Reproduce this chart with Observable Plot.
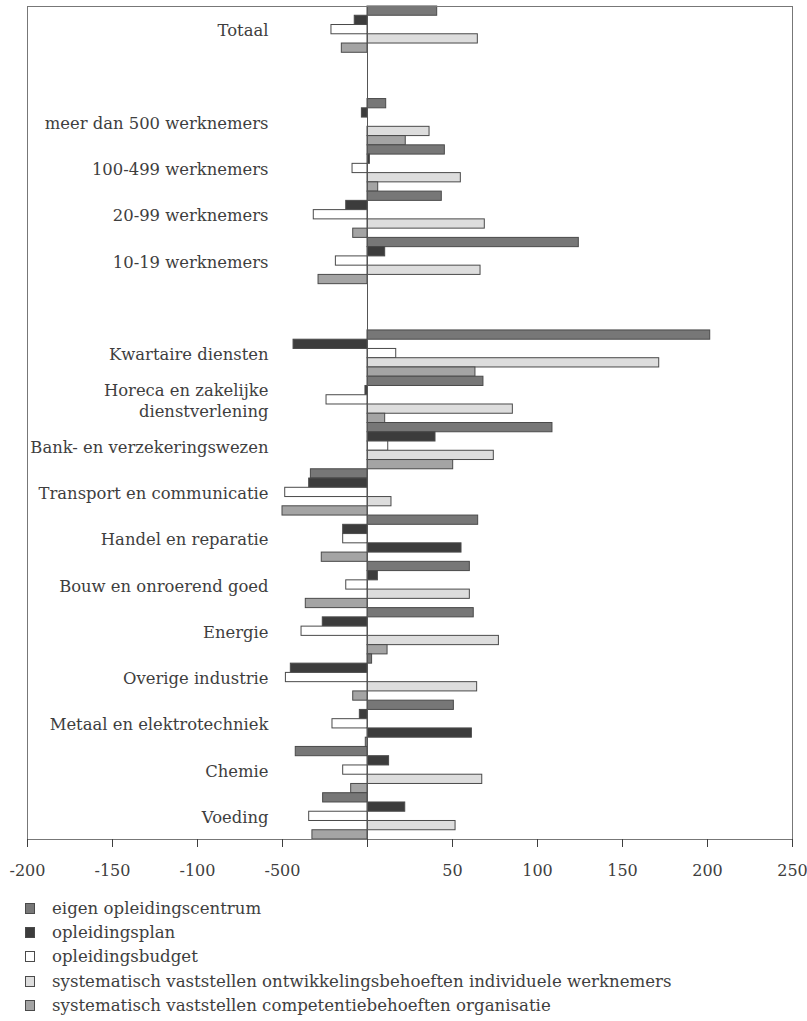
<!DOCTYPE html>
<html>
<head>
<meta charset="utf-8">
<script src="https://cdn.jsdelivr.net/npm/d3@7"></script>
<script src="https://cdn.jsdelivr.net/npm/@observablehq/plot@0.6"></script>
<style>
  body { margin: 0; background: #fff; font-family: "DejaVu Serif", serif; color: #3e3e3e; }
  #legend { margin-top: 6px; margin-left: 25px; font-size: 16.6px; }
  .row { height: 24.4px; display: flex; align-items: center; }
  .sw { width: 10px; height: 11px; border: 1px solid #4a4a4a; box-sizing: border-box; margin-right: 17px; }
</style>
</head>
<body>
<div id="chart"></div>
<div id="legend"></div>
<script>
// Categories, top to bottom ("" = empty spacer row)
const categories = [
  "Totaal", "",
  "meer dan 500 werknemers", "100-499 werknemers", "20-99 werknemers", "10-19 werknemers", "",
  "Kwartaire diensten", "Horeca en zakelijke\ndienstverlening", "Bank- en verzekeringswezen",
  "Transport en communicatie", "Handel en reparatie", "Bouw en onroerend goed", "Energie",
  "Overige industrie", "Metaal en elektrotechniek", "Chemie", "Voeding"
];

const seriesNames = [
  "eigen opleidingscentrum",
  "opleidingsplan",
  "opleidingsbudget",
  "systematisch vaststellen ontwikkelingsbehoeften individuele werknemers",
  "systematisch vaststellen competentiebehoeften organisatie"
];

const eigen       = [41, null, 11, 45.5, 43.7, 124.3, null, 201.6, 68.2, 108.8, -33.3, 65.1, 60.2, 62.5, 2.7, 50.8, -42.2, -26.1];
const plan        = [-7.5, null, -3.3, 1.4, -12.5, 10.4, null, -43.5, -1.2, 40, -34.3, -14.3, 6.1, -26.3, -45.1, -4.5, 12.7, 22.2];
const budget      = [-21.2, null, 0, -8.8, -31.6, -18.6, null, 16.9, -24.1, 12.2, -48.4, -14.3, -12.5, -38.8, -48, -20.6, -14.3, -34.3];
const individueel = [64.9, null, 36.5, 54.9, 69, 66.5, null, 171.6, 85.5, 74.3, 14.1, 55.3, 60.2, 77.3, 64.5, 61.4, 67.5, 51.8];
const competentie = [-15.1, null, 22.5, 6.3, -8.4, -28.8, null, 63.5, 10.4, 50.4, -50, -26.9, -36.3, 11.8, -8.4, -1, -9.6, -32.4];

// categories where the 4th bar is printed in the dark shade in the original
const darkFourth = ["Handel en reparatie", "Metaal en elektrotechniek"];

const xTicks = [-200, -150, -100, -50, 0, 50, 100, 150, 200, 250];

const colors = ["#777777", "#3c3c3c", "#ffffff", "#dddddd", "#a4a4a4"];
const values = [eigen, plan, budget, individueel, competentie];

const rows = [];
categories.forEach((c, i) => {
  seriesNames.forEach((s, j) => {
    rows.push({key: `${i}-${j}`, cat: c, series: j, value: values[j][i]});
  });
});
const keys = rows.map(d => d.key);
const bars = rows.filter(d => d.value != null);
const labelKeys = categories.map((c, i) => `${i}-2`).filter((k, i) => categories[i] !== "");
const catByKey = new Map(categories.map((c, i) => [`${i}-2`, c]));

const fillOf = d => (d.series === 3 && darkFourth.includes(d.cat)) ? colors[1] : colors[d.series];

const chart = Plot.plot({
  width: 807,
  height: 890,
  marginLeft: 27,
  marginRight: 15,
  marginTop: 6,
  marginBottom: 51,
  style: {fontFamily: "DejaVu Serif, serif", fontSize: "16px", color: "#3e3e3e", background: "#fff"},
  x: {domain: [-200, 250]},
  y: {domain: keys, padding: 0, round: false, axis: null},
  color: {type: "identity"},
  marks: [
    Plot.barX(bars, {x: "value", y: "key", fill: fillOf, stroke: "#4a4a4a", strokeWidth: 1}),
    Plot.ruleX([0], {stroke: "#555", strokeWidth: 1}),
    Plot.frame({stroke: "#777"}),
    Plot.axisX({ticks: xTicks, tickSize: 8, tickPadding: 17, label: null,
      tickFormat: d => d === -50 ? "-500" : d === 0 ? "" : `${d}`, fontSize: 16}),
    Plot.axisY({ticks: labelKeys, tickSize: 0, tickPadding: 3, dx: 244, label: null,
      tickFormat: k => catByKey.get(k), fontSize: 16.4, lineHeight: 1.25})
  ]
});
document.getElementById("chart").appendChild(chart);

const legend = document.getElementById("legend");
seriesNames.forEach((s, j) => {
  const row = document.createElement("div");
  row.className = "row";
  const sw = document.createElement("div");
  sw.className = "sw";
  sw.style.background = colors[j];
  const t = document.createElement("span");
  t.textContent = s;
  row.appendChild(sw);
  row.appendChild(t);
  legend.appendChild(row);
});
</script>
</body>
</html>
